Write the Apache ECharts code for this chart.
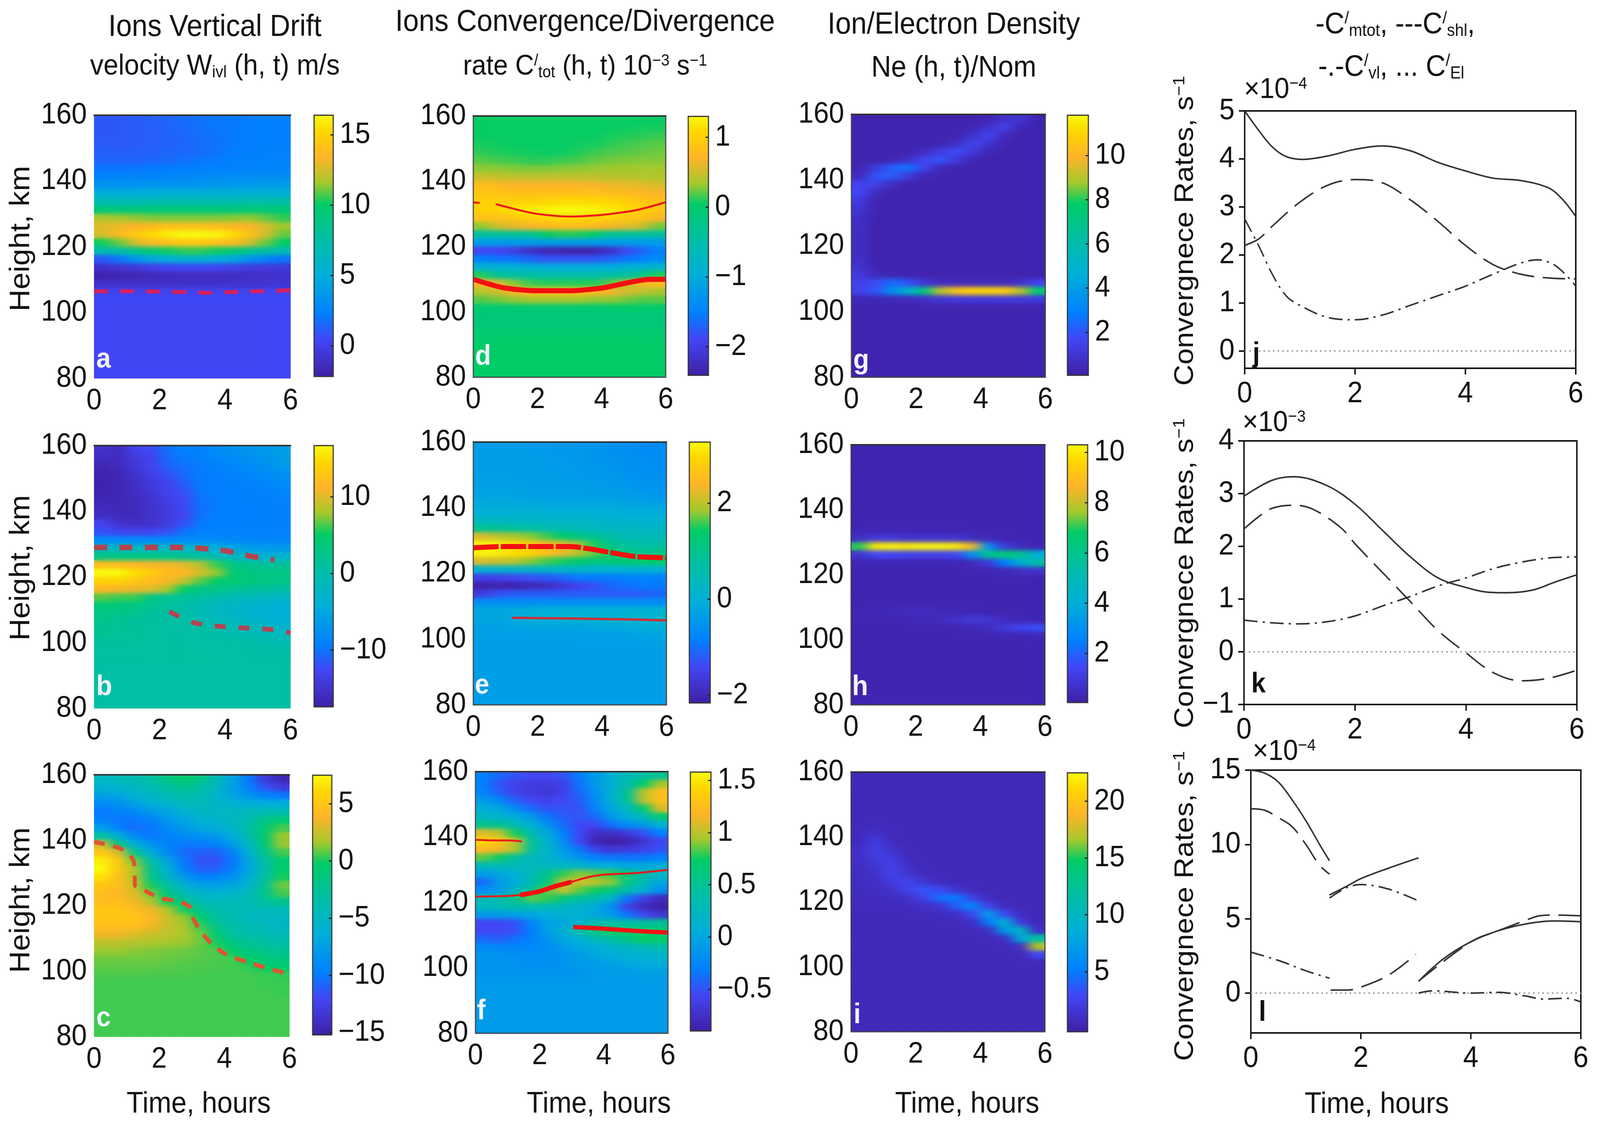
<!DOCTYPE html>
<html><head><meta charset="utf-8">
<style>html,body{margin:0;padding:0;background:#fff;overflow:hidden}#c{width:4422px;height:2891px;transform-origin:0 0}</style>
<script src="https://cdn.jsdelivr.net/npm/echarts@6/dist/echarts.min.js"></script>
</head><body>
<svg width="0" height="0" style="position:absolute"><filter id="soft" x="0" y="0" width="100%" height="100%" color-interpolation-filters="sRGB"><feGaussianBlur stdDeviation="16 6"/></filter></svg>
<div id="c"></div>
<script>
const timeCells=['0.25','0.75','1.25','1.75','2.25','2.75','3.25','3.75','4.25','4.75','5.25','5.75'];
const heightCells=['158.75','156.25','153.75','151.25','148.75','146.25','143.75','141.25','138.75','136.25','133.75','131.25','128.75','126.25','123.75','121.25','118.75','116.25','113.75','111.25','108.75','106.25','103.75','101.25','98.75','96.25','93.75','91.25','88.75','86.25','83.75','81.25'];
const gridA=[
[1,1,1.1,1.2,1.4,1.6,1.8,2,2.1,2.2,2.3,2.3],
[1,1,1.1,1.2,1.4,1.5,1.8,2,2.1,2.2,2.3,2.3],
[1,1,1.1,1.2,1.3,1.5,1.7,1.9,2.1,2.2,2.3,2.3],
[1.1,1.1,1.1,1.2,1.3,1.4,1.6,1.8,2.1,2.2,2.3,2.3],
[1.2,1.2,1.2,1.3,1.4,1.5,1.6,1.9,2.2,2.3,2.4,2.4],
[1.4,1.4,1.4,1.5,1.6,1.8,2,2.2,2.3,2.4,2.4,2.5],
[2,2,2,2.1,2.2,2.3,2.3,2.4,2.4,2.5,2.6,2.6],
[2.5,2.5,2.6,2.6,2.7,2.7,2.8,2.9,3,3,3.1,3.1],
[3.4,3.4,3.4,3.5,3.5,3.5,3.6,3.7,3.7,3.8,3.8,3.9],
[5,5,5,5,5.1,5.1,5.1,5.2,5.2,5.2,5.3,5.3],
[7,7,7,7.1,7.1,7.2,7.2,7.3,7.3,7.4,7.4,7.5],
[9.3,9.3,9.3,9.3,9.4,9.4,9.4,9.4,9.4,9.4,9.4,9.3],
[11.8,11.6,11.4,11.2,11.2,11.2,11.2,11.2,11.3,11.4,11,10.5],
[12.8,13,13.4,13.6,14,14,14,13.8,13.6,13.4,12.6,11.5],
[12.5,13.6,14.5,15.3,16,16.4,16.4,16.2,15.4,14,12.6,11],
[10.2,11,12.5,13.6,14,14.4,14.4,14,13.6,12.5,11,10],
[7,7.5,8.5,9.5,10.2,10.5,10.5,10.2,9.5,8.5,7.5,7],
[1,2,3.5,4.5,5,5.5,5.5,5,4.5,3.5,2.5,2],
[-1,-0.7,-0.5,0,0.3,0.5,0.5,0.3,0,-0.3,-0.4,-0.5],
[-2,-1.9,-1.7,-1.5,-1.5,-1.4,-1.4,-1.4,-1.3,-1.1,-1,-0.9],
[-1,-1,-1,-1,-1,-1,-1,-1,-0.9,-0.9,-0.8,-0.8],
[0.2,0.2,0.2,0.2,0.2,0.2,0.2,0.2,0.2,0.2,0.2,0.2],
[0.5,0.5,0.5,0.5,0.5,0.5,0.5,0.5,0.5,0.5,0.5,0.5],
[0.4,0.4,0.4,0.4,0.4,0.4,0.4,0.4,0.4,0.4,0.4,0.4],
[0.4,0.4,0.4,0.4,0.4,0.4,0.4,0.4,0.4,0.4,0.4,0.4],
[0.4,0.4,0.4,0.4,0.4,0.4,0.4,0.4,0.4,0.4,0.4,0.4],
[0.4,0.4,0.4,0.4,0.4,0.4,0.4,0.4,0.4,0.4,0.4,0.4],
[0.4,0.4,0.4,0.4,0.4,0.4,0.4,0.4,0.4,0.4,0.4,0.4],
[0.4,0.4,0.4,0.4,0.4,0.4,0.4,0.4,0.4,0.4,0.4,0.4],
[0.4,0.4,0.4,0.4,0.4,0.4,0.4,0.4,0.4,0.4,0.4,0.4],
[0.4,0.4,0.4,0.4,0.4,0.4,0.4,0.4,0.4,0.4,0.4,0.4],
[0.4,0.4,0.4,0.4,0.4,0.4,0.4,0.4,0.4,0.4,0.4,0.4]];
const gridB=[
[-15,-16,-13,-12.5,-10,-9,-9,-8,-7.5,-7,-6.5,-6],
[-15.5,-16,-14,-13,-10.5,-9.5,-9,-8.5,-8,-7.5,-7,-6],
[-16.5,-16,-14.5,-13,-11,-10,-9.5,-9,-8.5,-8,-7.5,-6.5],
[-17,-16.5,-15,-13.5,-12,-10.5,-9.5,-9.2,-9,-8.5,-8,-7.5],
[-17,-16.5,-15.5,-14,-13,-11,-9.5,-9.3,-9,-9,-8.5,-8],
[-17,-16.5,-15.5,-14.5,-13,-12,-9.5,-9.3,-9.2,-9,-9,-8.5],
[-16.5,-16.5,-16,-15,-13.5,-12.5,-10,-9.3,-9.2,-9,-9,-9],
[-16,-16.5,-16,-15,-14,-12.5,-10,-9.3,-9.2,-9.1,-9,-9],
[-15.5,-16,-16,-15,-14,-13,-10,-9.3,-9.2,-9.1,-9,-9],
[-13,-15,-15.5,-15,-14,-12,-9.5,-9.2,-9.1,-9,-9,-9],
[-12,-13,-13,-13,-12,-10,-9,-9,-9,-9,-9,-9],
[-8,-8,-8,-8,-8,-8,-8,-8,-8.5,-8.5,-8.5,-8.5],
[-2,-2,-2,-2,-2,-2.5,-3,-4,-5,-6,-6.5,-6.5],
[3,3,3,3,2.5,2,1,-1,-2,-3,-3.5,-3],
[12,12,11.5,11,11,10,8.5,6,3,2,1.5,1.5],
[16.6,16.6,15,13.5,12,11.5,9.5,7.5,4,3.5,3,3],
[14,14,13,12,11,9,6.5,5,4,3.5,3,3],
[11.5,11,10.5,10,8,5,3,2.5,2,1.5,1,0.5],
[6.5,6,6,3,2,1.5,1,0,-1,-1.5,-2,-2.5],
[4,3.5,3,2,1.5,0.5,-1,-2,-2.5,-3,-3.5,-4],
[3,2.5,2,1.5,0.5,0,-1,-1.5,-2.5,-3,-3.5,-4],
[2.5,2,1.5,1,1,0.5,0,-1,-1.5,-2,-3,-3.5],
[2,1.8,1.5,1,1,0.5,0.5,0,-0.5,-1,-2,-2.5],
[1.5,1.5,1.3,1,1,0.8,0.6,0.5,0.2,0,-0.5,-1],
[1,1,1,1,1,0.8,0.8,0.6,0.5,0.4,0.2,0],
[1,1,1,0.9,0.9,0.8,0.8,0.7,0.6,0.5,0.4,0.4],
[0.8,0.8,0.8,0.8,0.8,0.7,0.7,0.7,0.6,0.6,0.5,0.5],
[0.6,0.6,0.6,0.6,0.6,0.6,0.6,0.6,0.6,0.5,0.5,0.5],
[0.5,0.5,0.5,0.5,0.5,0.5,0.5,0.5,0.5,0.5,0.5,0.5],
[0.5,0.5,0.5,0.5,0.5,0.5,0.5,0.5,0.5,0.5,0.5,0.5],
[0.5,0.5,0.5,0.5,0.5,0.5,0.5,0.5,0.5,0.5,0.5,0.5],
[0.5,0.5,0.5,0.5,0.5,0.5,0.5,0.5,0.5,0.5,0.5,0.5]];
const gridC=[
[-5,-4.5,-4,-3,-1.5,-0.5,-1.5,-4,-7,-10,-13,-14.5],
[-6,-5.5,-5,-4,-3,-2,-3,-5,-7.5,-9.5,-11.5,-13],
[-7.5,-7,-6,-5,-4,-3.5,-4,-5.5,-7,-8.5,-9.5,-10],
[-9,-8.5,-7.5,-6.5,-5.5,-4.5,-4.5,-5,-6,-6.5,-6.5,-6.5],
[-10,-9.5,-9,-8,-7,-6,-5,-5,-5,-4.5,-4,-4],
[-9.5,-10,-10,-9.5,-8,-7,-6,-5.5,-5,-4,-2,-1],
[-7.5,-9.5,-10.5,-10,-9,-8,-7,-6.5,-5.5,-3.5,-1,0.5],
[-3,-6,-9,-10,-9.5,-9,-8.5,-8,-6.5,-4,-0.5,1.5],
[3,-1.5,-6,-8.5,-9.5,-10,-10,-9.5,-8,-5,-1,1.5],
[5,3,-2,-6.5,-9,-10.5,-11,-11,-9.5,-6,-2,0.5],
[7,5,1,-3.5,-7,-10,-11.5,-11.5,-10,-7,-3,-0.5],
[7.5,5,2,-2,-6,-9.5,-11,-11,-9.5,-7,-3.5,-0.5],
[6.5,4.5,2,-2,-5,-8,-9.5,-9.5,-8.5,-6.5,-3,0],
[5,4.5,2.5,0,-3,-6,-7.5,-7.5,-7,-5.5,-2.5,1],
[4.5,4,3,1,-1.5,-4,-5.5,-6,-5.5,-4.5,-2,0.5],
[4.5,4.5,3.5,2,0,-2,-4,-4.5,-4.5,-4,-3,-2],
[5,5,4.5,3.5,2,0,-2,-3.5,-4,-4.5,-4.5,-4.5],
[5,5,5,4,2.5,1.5,-0.5,-3,-4,-4.5,-5,-5],
[4.5,4.5,4.5,3.5,2.5,1.8,0.5,-2,-3.5,-4,-4.5,-5],
[3.5,3.5,3,2.5,2.2,1.8,1,-1,-3,-3.5,-4,-4.5],
[2.2,2.2,2,1.8,1.6,1.5,1,0,-1.5,-2.5,-3,-3.5],
[1.5,1.5,1.3,1.2,1.1,1,0.8,0.6,-0.5,-1.5,-2,-2.5],
[1,1,1,1,0.9,0.8,0.7,0.6,0.5,-0.5,-1,-1.5],
[0.8,0.8,0.8,0.8,0.7,0.7,0.6,0.6,0.5,0.3,-0.3,-0.7],
[0.6,0.6,0.6,0.6,0.6,0.6,0.5,0.5,0.5,0.5,0.4,0.3],
[0.5,0.5,0.5,0.5,0.5,0.5,0.5,0.5,0.5,0.5,0.4,0.4],
[0.5,0.5,0.5,0.5,0.5,0.5,0.5,0.5,0.5,0.5,0.5,0.4],
[0.5,0.5,0.5,0.5,0.5,0.5,0.5,0.5,0.5,0.5,0.5,0.5],
[0.5,0.5,0.5,0.5,0.5,0.5,0.5,0.5,0.5,0.5,0.5,0.5],
[0.5,0.5,0.5,0.5,0.5,0.5,0.5,0.5,0.5,0.5,0.5,0.5],
[0.5,0.5,0.5,0.5,0.5,0.5,0.5,0.5,0.5,0.5,0.5,0.5],
[0.5,0.5,0.5,0.5,0.5,0.5,0.5,0.5,0.5,0.5,0.5,0.5]];
const gridD=[
[0.05,0.05,0.05,0.05,0.05,0.05,0.05,0.05,0.05,0.05,0.05,0.05],
[0.05,0.05,0.05,0.05,0.05,0.05,0.05,0.05,0.05,0.06,0.07,0.08],
[0.05,0.05,0.05,0.05,0.05,0.05,0.05,0.05,0.08,0.1,0.12,0.14],
[0.08,0.06,0.05,0.05,0.05,0.05,0.06,0.08,0.12,0.15,0.18,0.2],
[0.12,0.1,0.08,0.07,0.06,0.06,0.1,0.14,0.18,0.2,0.22,0.24],
[0.2,0.17,0.15,0.12,0.12,0.15,0.18,0.22,0.25,0.27,0.28,0.28],
[0.3,0.3,0.28,0.27,0.27,0.29,0.3,0.32,0.33,0.33,0.34,0.34],
[0.5,0.47,0.45,0.45,0.45,0.45,0.45,0.45,0.42,0.42,0.4,0.4],
[0.8,0.75,0.7,0.7,0.7,0.7,0.7,0.68,0.65,0.62,0.6,0.55],
[0.9,0.9,0.85,0.85,0.85,0.85,0.85,0.85,0.82,0.8,0.75,0.7],
[1,1,1,1,1.05,1.1,1.1,1.1,1.05,1,0.9,0.85],
[1,1.05,1.15,1.2,1.25,1.3,1.3,1.25,1.2,1.1,1,0.9],
[0.85,0.85,0.9,1,1.05,1.1,1.1,1.05,1,0.9,0.85,0.7],
[0.3,0.5,0.6,0.7,0.75,0.8,0.8,0.75,0.7,0.6,0.5,0.25],
[-0.4,-0.4,-0.35,-0.3,0,0.1,0.1,0,-0.3,-0.35,-0.4,-0.4],
[-1.2,-1.2,-1.2,-1.2,-1.2,-1.2,-1.2,-1.2,-1.2,-1.2,-1.2,-1.2],
[-1.9,-1.9,-2,-2.2,-2.3,-2.35,-2.4,-2.35,-2.2,-1.9,-1.7,-1.5],
[-1.5,-1.6,-1.6,-1.7,-1.8,-1.8,-1.8,-1.8,-1.7,-1.6,-1.5,-1.4],
[-0.9,-0.9,-0.9,-0.95,-1,-1,-1,-1,-1,-0.9,-0.9,-0.85],
[0.1,-0.3,-0.4,-0.45,-0.5,-0.5,-0.5,-0.5,-0.45,-0.4,-0.2,0.1],
[0.7,0.6,0.3,0.15,0.1,0.1,0.1,0.1,0.2,0.4,0.7,0.8],
[0.4,0.5,0.7,0.8,0.85,0.85,0.85,0.8,0.7,0.55,0.45,0.35],
[0.2,0.25,0.3,0.35,0.35,0.35,0.35,0.3,0.3,0.25,0.2,0.2],
[-0.05,-0.05,-0.05,-0.05,-0.05,-0.05,-0.05,-0.05,0,0,0,0],
[-0.1,-0.1,-0.1,-0.1,-0.1,-0.1,-0.1,-0.1,-0.1,-0.1,-0.1,-0.1],
[-0.1,-0.1,-0.1,-0.1,-0.1,-0.1,-0.1,-0.1,-0.1,-0.1,-0.1,-0.1],
[-0.05,-0.05,-0.05,-0.05,-0.05,-0.05,-0.05,-0.05,-0.05,-0.05,-0.05,-0.05],
[0,0,0,0,0,0,0,0,0,0,0,0],
[0.03,0.03,0.03,0.03,0.03,0.03,0.03,0.03,0.03,0.03,0.03,0.03],
[0.03,0.03,0.03,0.03,0.03,0.03,0.03,0.03,0.03,0.03,0.03,0.03],
[0.03,0.03,0.03,0.03,0.03,0.03,0.03,0.03,0.03,0.03,0.03,0.03],
[0.03,0.03,0.03,0.03,0.03,0.03,0.03,0.03,0.03,0.03,0.03,0.03]];
const gridE=[
[-0.35,-0.35,-0.35,-0.4,-0.4,-0.45,-0.45,-0.5,-0.55,-0.6,-0.65,-0.65],
[-0.35,-0.35,-0.35,-0.4,-0.4,-0.45,-0.45,-0.5,-0.55,-0.6,-0.65,-0.65],
[-0.35,-0.35,-0.35,-0.35,-0.4,-0.4,-0.45,-0.5,-0.5,-0.55,-0.6,-0.65],
[-0.35,-0.35,-0.35,-0.35,-0.4,-0.4,-0.4,-0.45,-0.5,-0.55,-0.6,-0.6],
[-0.3,-0.3,-0.35,-0.35,-0.35,-0.4,-0.4,-0.45,-0.45,-0.5,-0.55,-0.55],
[-0.3,-0.3,-0.3,-0.35,-0.35,-0.35,-0.35,-0.4,-0.4,-0.45,-0.5,-0.5],
[-0.25,-0.25,-0.25,-0.3,-0.3,-0.3,-0.3,-0.35,-0.35,-0.4,-0.4,-0.45],
[-0.15,-0.15,-0.15,-0.15,-0.2,-0.2,-0.2,-0.2,-0.2,-0.25,-0.3,-0.3],
[0,0,0,0,0,0,-0.05,-0.05,-0.05,-0.1,-0.1,-0.1],
[0.3,0.3,0.25,0.25,0.2,0.2,0.15,0.15,0.1,0.1,0.1,0.1],
[0.9,0.9,0.8,0.7,0.6,0.5,0.4,0.35,0.3,0.3,0.25,0.25],
[2.2,2,1.9,1.8,1.6,1.4,1.1,0.9,0.7,0.5,0.45,0.45],
[3.2,3.2,3,2.8,2.5,2.3,1.9,1.5,1,0.8,0.7,0.7],
[3.2,3.2,3,2.9,2.6,2.3,2,1.7,1.4,1,1,1.1],
[2.2,2.1,2,1.8,1.6,1.5,1.3,1.2,1.2,1.3,1.4,1.4],
[0.1,0.1,0.2,0.2,0.2,0.2,0.2,0.1,0.1,0.1,0.1,0.1],
[-1.5,-1.5,-1.4,-1.3,-1.2,-1.1,-0.9,-0.9,-0.9,-0.8,-0.8,-0.8],
[-2.1,-2.1,-2.1,-2,-1.9,-1.7,-1.5,-1.3,-1.1,-1,-0.9,-0.9],
[-1.6,-1.3,-1.2,-1.2,-1.2,-1.2,-1.2,-1.2,-1.2,-1.2,-1.2,-1.1],
[-0.6,-0.6,-0.6,-0.6,-0.6,-0.6,-0.6,-0.6,-0.6,-0.6,-0.6,-0.6],
[-0.2,-0.2,-0.15,-0.1,-0.05,-0.05,-0.05,0,0,0,0.05,0.05],
[-0.2,-0.2,-0.15,-0.05,0,0,0.05,0.05,0.1,0.1,0.15,0.15],
[-0.3,-0.3,-0.25,-0.2,-0.2,-0.2,-0.2,-0.15,-0.15,-0.1,-0.1,0],
[-0.3,-0.35,-0.35,-0.35,-0.35,-0.35,-0.3,-0.3,-0.3,-0.3,-0.25,-0.2],
[-0.35,-0.35,-0.35,-0.35,-0.35,-0.35,-0.35,-0.35,-0.35,-0.35,-0.35,-0.3],
[-0.35,-0.35,-0.35,-0.35,-0.35,-0.35,-0.35,-0.35,-0.35,-0.35,-0.35,-0.35],
[-0.35,-0.35,-0.35,-0.35,-0.35,-0.35,-0.35,-0.35,-0.35,-0.35,-0.35,-0.35],
[-0.35,-0.35,-0.35,-0.35,-0.35,-0.35,-0.35,-0.35,-0.35,-0.35,-0.35,-0.35],
[-0.35,-0.35,-0.35,-0.35,-0.35,-0.35,-0.35,-0.35,-0.35,-0.35,-0.35,-0.35],
[-0.35,-0.35,-0.35,-0.35,-0.35,-0.35,-0.35,-0.35,-0.35,-0.35,-0.35,-0.35],
[-0.35,-0.35,-0.35,-0.35,-0.35,-0.35,-0.35,-0.35,-0.35,-0.35,-0.35,-0.35],
[-0.35,-0.35,-0.35,-0.35,-0.35,-0.35,-0.35,-0.35,-0.35,-0.35,-0.35,-0.35]];
const gridF=[
[-0.3,-0.4,-0.5,-0.55,-0.55,-0.5,-0.3,-0.1,0.1,0.3,0.4,0.5],
[-0.3,-0.5,-0.6,-0.65,-0.65,-0.6,-0.35,-0.1,0.1,0.35,0.7,0.95],
[-0.25,-0.45,-0.6,-0.65,-0.7,-0.6,-0.4,-0.15,0.1,0.5,1,1.25],
[-0.1,-0.25,-0.45,-0.55,-0.6,-0.55,-0.45,-0.2,0.1,0.5,1,1.25],
[0.05,0,-0.2,-0.4,-0.5,-0.5,-0.5,-0.25,0,0.25,0.7,1.1],
[0.2,0.15,0.05,-0.1,-0.35,-0.45,-0.5,-0.4,-0.1,0.05,0.3,0.7],
[0.55,0.5,0.3,0.1,-0.15,-0.4,-0.55,-0.55,-0.35,-0.2,-0.1,0.1],
[1.1,1,0.75,0.3,0,-0.3,-0.55,-0.75,-0.75,-0.65,-0.5,-0.3],
[1.45,1.3,1,0.5,0.1,-0.2,-0.55,-0.85,-0.9,-0.85,-0.7,-0.55],
[1.2,1.15,0.95,0.45,0.15,-0.1,-0.35,-0.6,-0.7,-0.65,-0.6,-0.5],
[0.85,0.75,0.45,0.25,0.15,0,-0.15,-0.3,-0.35,-0.35,-0.35,-0.3],
[0.3,0.3,0.3,0.25,0.25,0.2,0.15,0.05,0.05,0,0,0.05],
[-0.1,0,0.1,0.3,0.5,0.8,0.9,0.85,0.8,0.6,0.4,0.2],
[-0.4,-0.1,0.05,0.3,0.65,1,1.05,1,0.9,0.6,0.3,0],
[-0.2,-0.1,0.2,0.5,0.85,1.05,0.85,0.75,0.6,0.35,0.1,-0.2],
[0.25,0.35,0.55,0.85,0.8,0.65,0.45,0.35,0.2,-0.35,-0.6,-0.8],
[0.25,0.3,0.35,0.35,0.3,0.25,0.15,0.05,-0.2,-0.6,-0.8,-0.88],
[-0.1,-0.1,-0.05,0,0.05,0.1,0.1,0,-0.1,-0.35,-0.55,-0.7],
[-0.55,-0.55,-0.5,-0.25,-0.05,0,0.15,0.35,0.4,0.4,0.45,0.5],
[-0.55,-0.55,-0.5,-0.3,-0.05,0.1,0.4,0.6,0.75,0.75,0.7,0.65],
[-0.4,-0.45,-0.35,-0.3,-0.15,0,0.1,0.3,0.4,0.6,0.75,0.7],
[-0.2,-0.25,-0.25,-0.25,-0.2,-0.1,0,0.05,0.15,0.2,0.3,0.35],
[-0.15,-0.15,-0.2,-0.2,-0.2,-0.15,-0.1,0,0.05,0.1,0.1,0.15],
[-0.15,-0.15,-0.15,-0.2,-0.2,-0.15,-0.1,-0.1,-0.05,0,0.05,0.05],
[-0.15,-0.15,-0.15,-0.15,-0.15,-0.15,-0.15,-0.1,-0.1,-0.1,-0.05,-0.05],
[-0.12,-0.12,-0.12,-0.12,-0.12,-0.12,-0.12,-0.1,-0.1,-0.1,-0.1,-0.1],
[-0.1,-0.1,-0.1,-0.1,-0.1,-0.1,-0.1,-0.1,-0.1,-0.1,-0.1,-0.1],
[-0.1,-0.1,-0.1,-0.1,-0.1,-0.1,-0.1,-0.1,-0.1,-0.1,-0.1,-0.1],
[-0.1,-0.1,-0.1,-0.1,-0.1,-0.1,-0.1,-0.1,-0.1,-0.1,-0.1,-0.1],
[-0.1,-0.1,-0.1,-0.1,-0.1,-0.1,-0.1,-0.1,-0.1,-0.1,-0.1,-0.1],
[-0.1,-0.1,-0.1,-0.1,-0.1,-0.1,-0.1,-0.1,-0.1,-0.1,-0.1,-0.1],
[-0.1,-0.1,-0.1,-0.1,-0.1,-0.1,-0.1,-0.1,-0.1,-0.1,-0.1,-0.1]];
const gridG=[
[0.25,0.25,0.25,0.25,0.25,0.25,0.25,0.25,0.3,0.8,1,0.3],
[0.25,0.25,0.25,0.25,0.25,0.25,0.25,0.3,0.8,1.5,0.4,0.25],
[0.25,0.25,0.25,0.25,0.25,0.25,0.3,0.8,1.6,0.6,0.25,0.25],
[0.25,0.25,0.25,0.25,0.25,0.3,0.7,1.6,1,0.3,0.25,0.25],
[0.25,0.25,0.25,0.25,0.6,1.2,1.8,1.2,0.4,0.25,0.25,0.25],
[0.25,0.25,0.3,0.8,1.6,2,1.2,0.4,0.25,0.25,0.25,0.25],
[0.3,1.2,2.2,2.6,1.6,0.5,0.3,0.25,0.25,0.25,0.25,0.25],
[0.5,2,2.2,1.2,0.4,0.3,0.25,0.25,0.25,0.25,0.25,0.25],
[1.5,1.5,0.6,0.3,0.25,0.25,0.25,0.25,0.25,0.25,0.25,0.25],
[1.7,0.6,0.3,0.25,0.25,0.25,0.25,0.25,0.25,0.25,0.25,0.25],
[1.3,0.3,0.25,0.25,0.25,0.25,0.25,0.25,0.25,0.25,0.25,0.25],
[1,0.3,0.25,0.25,0.25,0.25,0.25,0.25,0.25,0.25,0.25,0.25],
[0.8,0.25,0.25,0.25,0.25,0.25,0.25,0.25,0.25,0.25,0.25,0.25],
[0.7,0.25,0.25,0.25,0.25,0.25,0.25,0.25,0.25,0.25,0.25,0.25],
[0.6,0.25,0.25,0.25,0.25,0.25,0.25,0.25,0.25,0.25,0.25,0.25],
[0.6,0.25,0.25,0.25,0.25,0.25,0.25,0.25,0.25,0.25,0.25,0.25],
[0.6,0.25,0.25,0.25,0.25,0.25,0.25,0.25,0.25,0.25,0.25,0.25],
[0.7,0.25,0.25,0.25,0.25,0.25,0.25,0.25,0.25,0.25,0.25,0.25],
[0.9,0.3,0.25,0.25,0.25,0.25,0.25,0.25,0.25,0.25,0.25,0.25],
[1.2,0.5,0.3,0.25,0.25,0.25,0.25,0.25,0.25,0.25,0.25,0.25],
[1.4,1.8,2.5,2,1,0.6,0.5,0.5,0.5,0.5,0.8,1.5],
[1.5,2,3.5,5,7.2,9,10.5,11,11,10.8,9,7.5],
[0.4,0.4,0.4,0.5,0.8,1,1.2,1.2,1.2,1.2,1.2,1.2],
[0.3,0.3,0.25,0.25,0.3,0.3,0.3,0.3,0.3,0.3,0.3,0.3],
[0.25,0.25,0.25,0.25,0.25,0.25,0.25,0.25,0.25,0.25,0.25,0.25],
[0.25,0.25,0.25,0.25,0.25,0.25,0.25,0.25,0.25,0.25,0.25,0.25],
[0.25,0.25,0.25,0.25,0.25,0.25,0.25,0.25,0.25,0.25,0.25,0.25],
[0.25,0.25,0.25,0.25,0.25,0.25,0.25,0.25,0.25,0.25,0.25,0.25],
[0.25,0.25,0.25,0.25,0.25,0.25,0.25,0.25,0.25,0.25,0.25,0.25],
[0.25,0.25,0.25,0.25,0.25,0.25,0.25,0.25,0.25,0.25,0.25,0.25],
[0.25,0.25,0.25,0.25,0.25,0.25,0.25,0.25,0.25,0.25,0.25,0.25],
[0.25,0.25,0.25,0.25,0.25,0.25,0.25,0.25,0.25,0.25,0.25,0.25]];
const gridH=[
[0.25,0.25,0.25,0.25,0.25,0.25,0.25,0.25,0.25,0.25,0.25,0.25],
[0.25,0.25,0.25,0.25,0.25,0.25,0.25,0.25,0.25,0.25,0.25,0.25],
[0.25,0.25,0.25,0.25,0.25,0.25,0.25,0.25,0.25,0.25,0.25,0.25],
[0.25,0.25,0.25,0.25,0.25,0.25,0.25,0.25,0.25,0.25,0.25,0.25],
[0.25,0.25,0.25,0.25,0.25,0.25,0.25,0.25,0.25,0.25,0.25,0.25],
[0.25,0.25,0.25,0.25,0.25,0.25,0.25,0.25,0.25,0.25,0.25,0.25],
[0.25,0.25,0.25,0.25,0.25,0.25,0.25,0.25,0.25,0.25,0.25,0.25],
[0.25,0.25,0.25,0.25,0.25,0.25,0.25,0.25,0.25,0.25,0.25,0.25],
[0.25,0.25,0.25,0.25,0.25,0.25,0.25,0.25,0.25,0.25,0.25,0.25],
[0.25,0.25,0.25,0.25,0.25,0.25,0.25,0.25,0.25,0.25,0.25,0.25],
[0.3,0.3,0.3,0.3,0.3,0.3,0.3,0.25,0.25,0.25,0.25,0.25],
[0.6,1,1,0.8,0.8,0.8,0.8,0.6,0.4,0.3,0.25,0.25],
[7,10,10.2,10,10.2,10.2,10,8.5,3,1,0.5,0.3],
[0.8,1.5,1.5,1.3,1.3,1.3,1.5,3,6,6.5,6,4],
[0.3,0.3,0.3,0.3,0.3,0.3,0.3,0.5,1,2.5,4,5.5],
[0.25,0.25,0.25,0.25,0.25,0.25,0.25,0.3,0.3,0.4,0.6,0.8],
[0.25,0.25,0.25,0.25,0.25,0.25,0.25,0.25,0.25,0.25,0.25,0.25],
[0.25,0.25,0.25,0.25,0.25,0.25,0.25,0.25,0.25,0.25,0.25,0.25],
[0.25,0.25,0.25,0.25,0.25,0.25,0.25,0.25,0.25,0.25,0.25,0.25],
[0.25,0.25,0.25,0.25,0.25,0.25,0.25,0.25,0.25,0.25,0.25,0.25],
[0.3,0.3,0.4,0.5,0.5,0.4,0.3,0.3,0.25,0.25,0.25,0.25],
[0.3,0.3,0.3,0.3,0.4,0.5,0.7,1,0.8,0.5,0.3,0.3],
[0.25,0.25,0.25,0.25,0.25,0.25,0.3,0.4,0.6,1,1.4,1.6],
[0.25,0.25,0.25,0.25,0.25,0.25,0.25,0.25,0.25,0.3,0.3,0.4],
[0.25,0.25,0.25,0.25,0.25,0.25,0.25,0.25,0.25,0.25,0.25,0.25],
[0.25,0.25,0.25,0.25,0.25,0.25,0.25,0.25,0.25,0.25,0.25,0.25],
[0.25,0.25,0.25,0.25,0.25,0.25,0.25,0.25,0.25,0.25,0.25,0.25],
[0.25,0.25,0.25,0.25,0.25,0.25,0.25,0.25,0.25,0.25,0.25,0.25],
[0.25,0.25,0.25,0.25,0.25,0.25,0.25,0.25,0.25,0.25,0.25,0.25],
[0.25,0.25,0.25,0.25,0.25,0.25,0.25,0.25,0.25,0.25,0.25,0.25],
[0.25,0.25,0.25,0.25,0.25,0.25,0.25,0.25,0.25,0.25,0.25,0.25],
[0.25,0.25,0.25,0.25,0.25,0.25,0.25,0.25,0.25,0.25,0.25,0.25]];
const gridI=[
[0.5,0.5,0.5,0.5,0.5,0.5,0.5,0.5,0.5,0.5,0.5,0.5],
[0.5,0.5,0.5,0.5,0.5,0.5,0.5,0.5,0.5,0.5,0.5,0.5],
[0.5,0.5,0.5,0.5,0.5,0.5,0.5,0.5,0.5,0.5,0.5,0.5],
[0.5,0.5,0.5,0.5,0.5,0.5,0.5,0.5,0.5,0.5,0.5,0.5],
[0.5,0.5,0.5,0.5,0.5,0.5,0.5,0.5,0.5,0.5,0.5,0.5],
[0.5,0.5,0.5,0.5,0.5,0.5,0.5,0.5,0.5,0.5,0.5,0.5],
[0.5,0.6,0.5,0.5,0.5,0.5,0.5,0.5,0.5,0.5,0.5,0.5],
[0.6,1,0.6,0.5,0.5,0.5,0.5,0.5,0.5,0.5,0.5,0.5],
[0.6,2,0.7,0.5,0.5,0.5,0.5,0.5,0.5,0.5,0.5,0.5],
[1,2.2,1.2,0.5,0.5,0.5,0.5,0.5,0.5,0.5,0.5,0.5],
[1,2,2,0.6,0.5,0.5,0.5,0.5,0.5,0.5,0.5,0.5],
[0.9,1.5,2.5,1,0.5,0.5,0.5,0.5,0.5,0.5,0.5,0.5],
[0.8,1.2,2.5,1.5,0.6,0.5,0.5,0.5,0.5,0.5,0.5,0.5],
[0.8,1,2,2.5,1.5,0.6,0.5,0.5,0.5,0.5,0.5,0.5],
[0.7,0.8,1.2,2.5,3.5,3,1.5,0.6,0.5,0.5,0.5,0.5],
[0.6,0.7,0.8,1.2,2.5,4.5,5,2.5,0.7,0.5,0.5,0.5],
[0.6,0.6,0.6,0.7,1,1.5,4,6,2.5,0.6,0.5,0.5],
[0.5,0.5,0.5,0.5,0.6,0.7,1,3,7.5,3,0.6,0.5],
[0.5,0.5,0.5,0.5,0.5,0.5,0.6,1,5,9,2,0.5],
[0.5,0.5,0.5,0.5,0.5,0.5,0.5,0.6,1,7,10,1],
[0.5,0.5,0.5,0.5,0.5,0.5,0.5,0.5,0.5,1,8,12],
[0.5,0.5,0.5,0.5,0.5,0.5,0.5,0.5,0.5,0.5,1,17],
[0.5,0.5,0.5,0.5,0.5,0.5,0.5,0.5,0.5,0.5,0.5,3],
[0.5,0.5,0.5,0.5,0.5,0.5,0.5,0.5,0.5,0.5,0.5,0.5],
[0.5,0.5,0.5,0.5,0.5,0.5,0.5,0.5,0.5,0.5,0.5,0.5],
[0.5,0.5,0.5,0.5,0.5,0.5,0.5,0.5,0.5,0.5,0.5,0.5],
[0.5,0.5,0.5,0.5,0.5,0.5,0.5,0.5,0.5,0.5,0.5,0.5],
[0.5,0.5,0.5,0.5,0.5,0.5,0.5,0.5,0.5,0.5,0.5,0.5],
[0.5,0.5,0.5,0.5,0.5,0.5,0.5,0.5,0.5,0.5,0.5,0.5],
[0.5,0.5,0.5,0.5,0.5,0.5,0.5,0.5,0.5,0.5,0.5,0.5],
[0.5,0.5,0.5,0.5,0.5,0.5,0.5,0.5,0.5,0.5,0.5,0.5],
[0.5,0.5,0.5,0.5,0.5,0.5,0.5,0.5,0.5,0.5,0.5,0.5]];

const contourA=[[0,106.5],[1,106.5],[2,106.4],[3,106.2],[3.4,106],[4,106.2],[5,106.5],[6,106.8]];
const contourB1=[[0,129],[1,129],[2,129],[2.5,129],[3.3,128.7],[4,128],[4.8,126.3],[5.5,125.2]];
const contourB2=[[2.3,109.5],[3,106.2],[3.8,105],[4.6,104.5],[5.4,104],[6,103]];
const contourC=[[0,139.5],[0.5,138.5],[0.9,137],[1.2,134],[1.25,130],[1.25,126.5],[1.5,125],[2,122.5],[2.7,121],[3,119],[3.05,116],[3.3,112],[3.6,108.5],[4,105.5],[4.7,102.8],[5.5,100.5],[6,99]];
const contourD1=[[0.7,133],[1.5,131],[2,130],[3,129.2],[4,129.7],[4.5,130.3],[5,131],[5.5,132.2],[6,133.6]];
const contourD1b=[[0,133.5],[0.2,133.4]];
const contourD2=[[0,110],[0.5,108.5],[1,107.3],[2,106.5],[3,106.5],[4,107.3],[4.5,108.3],[5,109.3],[5.5,110],[6,110]];
const contourE1=[[0,127.8],[1,128.2],[2,128.2],[3,128.2],[3.6,127.5],[4.2,126.5],[5,125.2],[6,124.8]];
const contourE2=[[1.2,106.5],[3,106.3],[5,106],[6,105.7]];
const contourF1=[[0,139.2],[0.5,139],[1,139],[1.45,138.7]];
const contourF2a=[[0,121.8],[1,122],[1.4,122.3]];
const contourF2b=[[1.4,122.3],[1.7,122.8],[2,123.4],[2.5,125],[3,126.3]];
const contourF2c=[[3,126.3],[3.5,127.7],[4,128.5],[5,129],[6,130]];
const contourF3=[[3.05,112.5],[4,112],[5,111.3],[6,110.8]];

const solidJ=[[0,5],[0.25,4.6],[0.5,4.25],[0.75,4.05],[1.05,3.99],[1.5,4.06],[2,4.2],[2.5,4.27],[3,4.17],[3.5,3.93],[4,3.75],[4.5,3.6],[5,3.55],[5.5,3.4],[5.75,3.17],[6,2.8]];
const dashJ=[[0,2.2],[0.25,2.33],[0.5,2.6],[1,3.1],[1.5,3.45],[2,3.57],[2.5,3.5],[3,3.15],[3.5,2.7],[4,2.2],[4.5,1.8],[5,1.6],[5.5,1.52],[6,1.5]];
const dotdashJ=[[0,2.75],[0.25,2.2],[0.5,1.6],[0.75,1.15],[1,0.95],[1.5,0.7],[2,0.65],[2.5,0.75],[3,0.95],[3.5,1.15],[4,1.35],[4.5,1.6],[5,1.83],[5.3,1.9],[5.6,1.8],[5.85,1.55],[6,1.35]];
const solidK=[[0,2.95],[0.5,3.25],[0.9,3.32],[1.5,3.15],[2,2.8],[2.5,2.3],[3,1.8],[3.5,1.4],[4,1.22],[4.4,1.13],[4.75,1.12],[5.2,1.17],[5.6,1.32],[6,1.46]];
const dashK=[[0,2.33],[0.25,2.55],[0.5,2.72],[0.9,2.78],[1.25,2.7],[1.75,2.35],[2,2.05],[2.5,1.5],[3,0.95],[3.5,0.4],[4,-0.02],[4.5,-0.4],[5,-0.55],[5.5,-0.5],[6,-0.35]];
const dotdashK=[[0,0.6],[0.5,0.55],[1,0.53],[1.5,0.57],[2,0.68],[2.5,0.87],[3,1.05],[3.5,1.25],[4,1.4],[4.5,1.58],[5,1.7],[5.5,1.78],[6,1.8]];
const solidL1=[[0,15],[0.25,14.8],[0.5,14.2],[0.75,13],[1,11.6],[1.25,10],[1.43,8.9]];
const solidL2=[[1.43,6.6],[1.75,7.2],[2,7.7],[2.5,8.4],[3.05,9.1]];
const solidL3=[[3.05,0.8],[3.5,2.3],[4,3.45],[4.5,4.2],[5,4.65],[5.5,4.85],[6,4.8]];
const dashL1=[[0,12.4],[0.25,12.3],[0.5,11.8],[0.75,11.2],[1,10],[1.25,8.6],[1.43,8]];
const dashL2=[[1.45,0.2],[1.75,0.2],[2,0.4],[2.5,1.2],[3,2.6]];
const dashL3=[[3.05,0.8],[4,3.45],[4.5,4.2],[5,4.9],[5.25,5.2],[5.5,5.25],[6,5.2]];
const dotdashL1=[[0,2.75],[0.5,2.2],[1,1.5],[1.43,1]];
const dotdashL2=[[1.43,6.4],[1.75,7.1],[2,7.3],[2.5,7],[3.05,6.2]];
const dotdashL3=[[3.05,0],[3.3,0.15],[4,0],[4.5,0.05],[5,-0.2],[5.3,-0.4],[5.75,-0.35],[6,-0.6]];
const zeroLine=[[0,0],[6,0]];

const colorStops=[[0,'#4020a6'],[0.14,'#4246f5'],[0.24,'#0080ff'],[0.39,'#00b0d8'],[0.54,'#00c0a0'],[0.66,'#00cc66'],[0.74,'#a5c82d'],[0.84,'#ffb428'],[0.94,'#ffd700'],[1,'#f8fa0d']];
function hex(c){return [1,3,5].map(i=>parseInt(c.substr(i,2),16));}
const palette=[];
for(let i=0;i<=100;i++){const f=i/100;let k=0;while(k<colorStops.length-2&&f>colorStops[k+1][0])k++;
 const a=colorStops[k],b=colorStops[k+1],u=(f-a[0])/(b[0]-a[0]),p=hex(a[1]),q=hex(b[1]);
 palette.push('rgb('+p.map((v,j)=>Math.round(v+(q[j]-v)*u)).join(',')+')');}

const FONT='"Liberation Sans",Arial,sans-serif', TICK=76;
const fmt=v=>String(v).replace('-','\u2212');
const panels=[
 {g:gridA,rect:[260,295,543,674],cb:[868,295,53,669],min:-2.2,max:16.4,ticks:[0,5,10,15],frame:false,lines:[[contourA,'#d6205f',10,[38,34]]]},
 {g:gridB,rect:[260,1141,543,673],cb:[868,1141,53,669],min:-17.4,max:16.66,ticks:[-10,0,10],frame:false,lines:[[contourB1,'#b5434f',14,[36,34]],[contourB2,'#b5434f',12,[30,36]]]},
 {g:gridC,rect:[260,1984,540,671],cb:[864,1985,53,665],min:-15.2,max:7.5,ticks:[-15,-10,-5,0,5],frame:false,lines:[[contourC,'#dd5530',11,[30,24]]]},
 {g:gridD,rect:[1308,297,532,669],cb:[1902,298,56,663],min:-2.41,max:1.3,ticks:[-2,-1,0,1],frame:true,lines:[[contourD1,'#f01818',5,'solid'],[contourD1b,'#f01818',5,'solid'],[contourD2,'#f51010',13,'solid']]},
 {g:gridE,rect:[1308,1132,534,673],cb:[1905,1132,58,668],min:-2.16,max:3.27,ticks:[-2,0,2],frame:true,lines:[[contourE1,'#f51010',13,[70,6]],[contourE2,'#cc3038',6,'solid']]},
 {g:gridF,rect:[1314,1976,532,670],cb:[1908,1977,57,663],min:-0.9,max:1.58,ticks:[-0.5,0,0.5,1,1.5],frame:true,lines:[[contourF1,'#e82018',5,'solid'],[contourF2a,'#e02020',5,'solid'],[contourF2b,'#f51010',12,'solid'],[contourF2c,'#f01818',5,'solid'],[contourF3,'#f01414',11,'solid']]},
 {g:gridG,rect:[2353,293,536,673],cb:[2950,295,58,666],min:0.05,max:11.83,ticks:[2,4,6,8,10],frame:true,lines:[]},
 {g:gridH,rect:[2352,1139,536,666],cb:[2950,1139,56,660],min:0.05,max:10.3,ticks:[2,4,6,8,10],frame:true,lines:[]},
 {g:gridI,rect:[2352,1977,536,665],cb:[2950,1979,56,663],min:-0.3,max:22.5,ticks:[5,10,15,20],frame:true,lines:[]}
];
const LINE='#333', DD=[38,14,6,14], DA=[62,24];
const charts=[
 {rect:[3440,284,915,659],min:-0.36,max:5,ticks:[0,1,2,3,4,5],exp:'\u00d710{sup|\u22124}',expPos:[3438,231],
  sets:[[solidJ,'solid'],[dashJ,DA],[dotdashJ,DD]]},
 {rect:[3438,1129,920,675],min:-1,max:4,ticks:[-1,0,1,2,3,4],exp:'\u00d710{sup|\u22123}',expPos:[3434,1084],
  sets:[[solidK,'solid'],[dashK,DA],[dotdashK,DD]]},
 {rect:[3457,1972,912,673],min:-2.68,max:15,ticks:[0,5,10,15],exp:'\u00d710{sup|\u22124}',expPos:[3462,1926],
  sets:[[solidL1,'solid'],[solidL2,'solid'],[solidL3,'solid'],[dashL1,DA],[dashL2,DA],[dashL3,DA],[dotdashL1,DD],[dotdashL2,DD],[dotdashL3,DD]]}
];
const grids=[],xs=[],ys=[],series=[],vms=[],titles=[],gfx=[];
const rich={sub:{fontFamily:FONT,verticalAlign:'bottom',color:'#111'},sup:{fontFamily:FONT,verticalAlign:'top',color:'#111'}};
function addText(text,x,y,size,opt){titles.push(Object.assign({text,left:x,top:y,textAlign:'center',textVerticalAlign:'middle',padding:0,textStyle:{fontFamily:FONT,fontSize:size,fontWeight:'normal',color:'#111',rich:Object.fromEntries(Object.entries(rich).map(([k,v])=>[k,Object.assign({},v,{fontSize:Math.round(size*0.58)})]))}},opt||{}));}
function rot(text,x,y,size){gfx.push({type:'text',x,y,rotation:Math.PI/2,z:20,style:{text,fontFamily:FONT,fontSize:size,fill:'#111',align:'center',verticalAlign:'middle',rich:{sup:{fontSize:Math.round(size*0.6),fontFamily:FONT,verticalAlign:'top',fill:'#111'}}}});}
function place(r){return {left:r[0],top:r[1],width:r[2],height:r[3],containLabel:false};}
panels.forEach(p=>{
 let gi=grids.length;
 grids.push(place(p.rect));
 xs.push({type:'category',gridIndex:gi,data:timeCells,position:'top',z:10,axisTick:{show:false},axisLabel:{show:false},axisLine:{show:true,lineStyle:{color:'#333',width:4}},splitLine:{show:false}});
 ys.push({type:'category',gridIndex:gi,data:heightCells,inverse:true,show:false});
 const data=[];p.g.forEach((row,j)=>row.forEach((v,i)=>data.push([i,j,v])));
 const si=series.length;
 [-2,-1].forEach(zl=>series.push({type:'heatmap',zlevel:zl,xAxisIndex:xs.length-1,yAxisIndex:ys.length-1,data,progressive:0,animation:false,emphasis:{disabled:true}}));
 vms.push({type:'continuous',seriesIndex:[si,si+1],dimension:2,min:p.min,max:p.max,left:p.cb[0],top:p.cb[1],itemWidth:p.cb[2],itemHeight:p.cb[3],padding:0,calculable:false,hoverLink:false,inRange:{color:palette},textStyle:{fontSize:1,color:'rgba(0,0,0,0)'}});
 gi=grids.length;
 grids.push(Object.assign(place(p.rect),p.frame?{show:true,z:10,backgroundColor:'transparent',borderColor:'#444',borderWidth:3}:{}));
 const xi=xs.length,yi=ys.length;
 xs.push({type:'value',gridIndex:gi,min:0,max:6,interval:2,axisLine:{show:false,onZero:false},axisTick:{show:false},splitLine:{show:false},axisLabel:{fontFamily:FONT,fontSize:TICK,color:'#111',margin:20,showMinLabel:true,showMaxLabel:true}});
 ys.push({type:'value',gridIndex:gi,min:80,max:160,interval:20,axisLine:{show:false,onZero:false},axisTick:{show:false},splitLine:{show:false},axisLabel:{fontFamily:FONT,fontSize:TICK,color:'#111',margin:20,padding:[20,0,0,0],showMinLabel:true,showMaxLabel:true}});
 p.lines.forEach(l=>series.push({type:'line',xAxisIndex:xi,yAxisIndex:yi,data:l[0],smooth:0.3,showSymbol:false,symbol:'none',animation:false,z:5,lineStyle:{color:l[1],width:l[2],type:l[3],cap:'butt'}}));
 gi=grids.length;
 grids.push(Object.assign(place(p.cb),{show:true,z:10,backgroundColor:'transparent',borderColor:'#333',borderWidth:3}));
 xs.push({type:'value',gridIndex:gi,min:0,max:1,show:false});
 ys.push({type:'value',gridIndex:gi,position:'right',min:p.min,max:p.max,z:11,axisLine:{show:false,onZero:false},splitLine:{show:false},
  axisTick:{show:true,inside:true,length:8,customValues:p.ticks,lineStyle:{color:'#222',width:3}},
  axisLabel:{customValues:p.ticks,fontFamily:FONT,fontSize:TICK,color:'#111',margin:18,formatter:fmt,showMinLabel:true,showMaxLabel:true}});
});
charts.forEach(c=>{
 const gi=grids.length,xi=xs.length,yi=ys.length;
 grids.push(Object.assign(place(c.rect),{show:true,z:3,backgroundColor:'transparent',borderColor:'#111',borderWidth:4}));
 xs.push({type:'value',gridIndex:gi,min:0,max:6,interval:2,axisLine:{show:false,onZero:false},splitLine:{show:false},axisTick:{show:true,length:16,lineStyle:{color:'#111',width:4}},axisLabel:{fontFamily:FONT,fontSize:TICK,color:'#111',margin:28,showMinLabel:true,showMaxLabel:true}});
 ys.push({type:'value',gridIndex:gi,min:c.min,max:c.max,axisLine:{show:false,onZero:false},splitLine:{show:false},axisTick:{show:true,length:16,customValues:c.ticks,lineStyle:{color:'#111',width:4}},axisLabel:{customValues:c.ticks,fontFamily:FONT,fontSize:TICK,color:'#111',margin:28,formatter:fmt,showMinLabel:true,showMaxLabel:true}});
 series.push({type:'line',xAxisIndex:xi,yAxisIndex:yi,data:zeroLine,showSymbol:false,symbol:'none',animation:false,lineStyle:{color:'#999',width:4,type:[4,9]}});
 c.sets.forEach(s=>series.push({type:'line',xAxisIndex:xi,yAxisIndex:yi,data:s[0],smooth:0.35,showSymbol:false,symbol:'none',animation:false,lineStyle:{color:LINE,width:4,type:s[1],cap:'butt'}}));
 addText(c.exp,c.expPos[0],c.expPos[1],74,{textAlign:'left'});
});
addText('Ions Vertical Drift',594,70,78);
addText('velocity W{sub|ivl} (h, t) m/s',594,171,74);
addText('Ions Convergence/Divergence',1617,57,78);
addText('rate C{sup|/}{sub|tot} (h, t) 10{sup|\u22123} s{sup|\u22121}',1617,171,72);
addText('Ion/Electron Density',2636,64,78);
addText('Ne (h, t)/Nom',2636,175,76);
addText('-C{sup|/}{sub|mtot}, ---C{sup|/}{sub|shl},',3856,64,76);
addText('-.-C{sup|/}{sub|vl}, ... C{sup|/}{sub|El}',3845,173,76);
addText('Time, hours',549,2828,76);addText('Time, hours',1655,2828,76);addText('Time, hours',2673,2828,76);addText('Time, hours',3805,2829,76);
rot('Height, km',59,611,78);rot('Height, km',59,1454,78);rot('Height, km',59,2305,78);
rot('Convergnece Rates, s{sup|\u22121}',3276,591,75);rot('Convergnece Rates, s{sup|\u22121}',3276,1468,75);rot('Convergnece Rates, s{sup|\u22121}',3276,2320,75);
const letters=[['a',286,921,'#f4f4ff'],['d',1335,914,'#f4f4ff'],['g',2380,924,'#f4f4ff'],['b',288,1760,'#f4f4ff'],['e',1332,1756,'#f4f4ff'],['h',2377,1760,'#f4f4ff'],['c',286,2608,'#f4f4ff'],['f',1330,2590,'#f4f4ff'],['i',2369,2600,'#f4f4ff'],['j',3472,907,'#111'],['k',3478,1753,'#111'],['l',3489,2594,'#111']];
letters.forEach(l=>titles.push({text:l[0],left:l[1],top:l[2],textAlign:'center',textVerticalAlign:'middle',padding:0,z:20,textStyle:{fontFamily:FONT,fontSize:72,fontWeight:'bold',color:l[3]}}));
const host=document.getElementById('c');
host.style.transform='scaleX('+Math.min(1,window.innerWidth/4422)+')';
const chart=echarts.init(host,null,{renderer:'canvas',width:4422,height:2891});
chart.setOption({animation:false,backgroundColor:'#fff',title:titles,grid:grids,xAxis:xs,yAxis:ys,series,visualMap:vms,graphic:{elements:gfx},tooltip:{show:false}});
const soft=host.querySelector('canvas[data-zr-dom-id="zr_-1"]');
if(soft){soft.style.filter='url(#soft)';
 soft.style.clipPath="path('"+panels.map(p=>{const [x,y,w,h]=p.rect;return 'M'+x+' '+y+'H'+(x+w)+'V'+(y+h)+'H'+x+'Z';}).join(' ')+"')";}
</script></body></html>
